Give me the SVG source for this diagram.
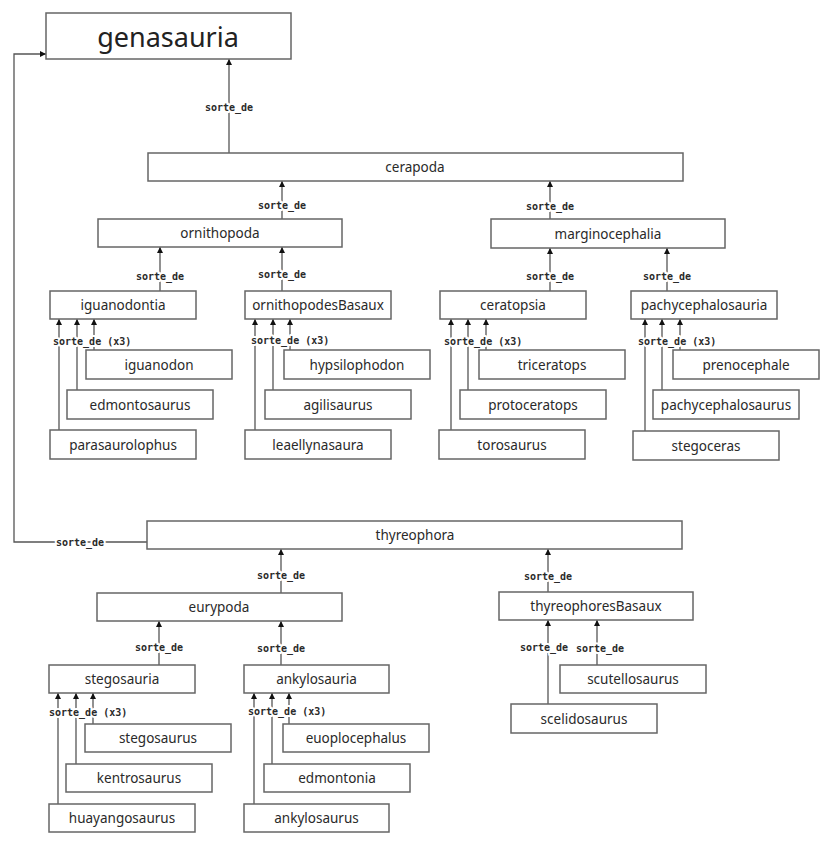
<svg xmlns="http://www.w3.org/2000/svg" width="825" height="842" viewBox="0 0 825 842">
<style>
.box{fill:#fff;stroke:#666;stroke-width:1.5}
.nt{font-family:"Noto Sans","Open Sans",sans-serif;font-size:13.5px;fill:#2a2a2a;text-anchor:middle;dominant-baseline:central}
.big{font-size:27px;fill:#222}
.ln{fill:none;stroke:#555;stroke-width:1.3;marker-end:url(#ah)}
.lb{font-family:"DejaVu Sans Mono","Liberation Mono",monospace;font-weight:bold;font-size:10px;fill:#2a2a2a;stroke:#fff;stroke-width:4;paint-order:stroke;stroke-linejoin:round;dominant-baseline:central}
.c{text-anchor:middle}
</style>
<defs>
<marker id="ah" viewBox="0 0 10 10" refX="10" refY="5" markerWidth="8" markerHeight="6" markerUnits="userSpaceOnUse" orient="auto">
<path d="M0,0 L10,5 L0,10 z" fill="#111"/>
</marker>
</defs>
<rect width="825" height="842" fill="#fff"/>
<g id="connectors">
<path class="ln" d="M229,153 V59"/>
<path class="ln" d="M282,219 V181"/>
<path class="ln" d="M550,219 V181"/>
<path class="ln" d="M160,291 V247"/>
<path class="ln" d="M282,291 V247"/>
<path class="ln" d="M550,291 V248"/>
<path class="ln" d="M667,291 V248"/>
<path class="ln" d="M59,430 V319"/>
<path class="ln" d="M77,390 V319"/>
<path class="ln" d="M94,350 V319"/>
<path class="ln" d="M255,430 V319"/>
<path class="ln" d="M273,390 V319"/>
<path class="ln" d="M290,350 V319"/>
<path class="ln" d="M451,430 V319"/>
<path class="ln" d="M468,390 V319"/>
<path class="ln" d="M486,350 V319"/>
<path class="ln" d="M645,431 V319"/>
<path class="ln" d="M662,390 V319"/>
<path class="ln" d="M680,350 V319"/>
<path class="ln" d="M147,542 H14 V54 H46"/>
<path class="ln" d="M281,593 V549"/>
<path class="ln" d="M548,592 V549"/>
<path class="ln" d="M159,665 V621"/>
<path class="ln" d="M281,665 V621"/>
<path class="ln" d="M58,804 V693"/>
<path class="ln" d="M76,764 V693"/>
<path class="ln" d="M93,724 V693"/>
<path class="ln" d="M254,804 V693"/>
<path class="ln" d="M272,764 V693"/>
<path class="ln" d="M289,724 V693"/>
<path class="ln" d="M548,704 V620"/>
<path class="ln" d="M597,665 V620"/>
<text class="lb c" x="229" y="107">sorte_de</text>
<text class="lb c" x="282" y="205">sorte_de</text>
<text class="lb c" x="550" y="206">sorte_de</text>
<text class="lb c" x="160" y="276">sorte_de</text>
<text class="lb c" x="282" y="274">sorte_de</text>
<text class="lb c" x="550" y="276">sorte_de</text>
<text class="lb c" x="667" y="276">sorte_de</text>
<text class="lb" x="53" y="341">sorte_de (x3)</text>
<text class="lb" x="251" y="340">sorte_de (x3)</text>
<text class="lb" x="444" y="341">sorte_de (x3)</text>
<text class="lb" x="638" y="341">sorte_de (x3)</text>
<text class="lb c" x="80" y="542">sorte_de</text>
<text class="lb c" x="281" y="575">sorte_de</text>
<text class="lb c" x="548" y="576">sorte_de</text>
<text class="lb c" x="159" y="647">sorte_de</text>
<text class="lb c" x="281" y="648">sorte_de</text>
<text class="lb" x="49" y="712">sorte_de (x3)</text>
<text class="lb" x="248" y="711">sorte_de (x3)</text>
<text class="lb c" x="544" y="647">sorte_de</text>
<text class="lb c" x="600" y="648">sorte_de</text>
</g>
<g id="genasauria"><rect class="box" x="46" y="13" width="245" height="46"/><text class="nt big" x="168" y="36">genasauria</text></g>
<g id="cerapoda"><rect class="box" x="148" y="153" width="535" height="28"/><text class="nt" x="415" y="167">cerapoda</text></g>
<g id="ornithopoda"><rect class="box" x="98" y="219" width="244" height="28"/><text class="nt" x="220" y="233">ornithopoda</text></g>
<g id="marginocephalia"><rect class="box" x="491" y="219" width="234" height="29"/><text class="nt" x="608" y="233.5">marginocephalia</text></g>
<g id="iguanodontia"><rect class="box" x="50" y="291" width="146" height="28"/><text class="nt" x="123" y="305">iguanodontia</text></g>
<g id="ornithopodesBasaux"><rect class="box" x="245" y="291" width="146" height="28"/><text class="nt" x="318" y="305">ornithopodesBasaux</text></g>
<g id="ceratopsia"><rect class="box" x="440" y="291" width="146" height="28"/><text class="nt" x="513" y="305">ceratopsia</text></g>
<g id="pachycephalosauria"><rect class="box" x="631" y="291" width="146" height="28"/><text class="nt" x="704" y="305">pachycephalosauria</text></g>
<g id="iguanodon"><rect class="box" x="86" y="350" width="146" height="29"/><text class="nt" x="159" y="364.5">iguanodon</text></g>
<g id="edmontosaurus"><rect class="box" x="67" y="390" width="146" height="29"/><text class="nt" x="140" y="404.5">edmontosaurus</text></g>
<g id="parasaurolophus"><rect class="box" x="50" y="430" width="146" height="29"/><text class="nt" x="123" y="444.5">parasaurolophus</text></g>
<g id="hypsilophodon"><rect class="box" x="284" y="350" width="146" height="29"/><text class="nt" x="357" y="364.5">hypsilophodon</text></g>
<g id="agilisaurus"><rect class="box" x="265" y="390" width="146" height="29"/><text class="nt" x="338" y="404.5">agilisaurus</text></g>
<g id="leaellynasaura"><rect class="box" x="245" y="430" width="146" height="29"/><text class="nt" x="318" y="444.5">leaellynasaura</text></g>
<g id="triceratops"><rect class="box" x="479" y="350" width="146" height="29"/><text class="nt" x="552" y="364.5">triceratops</text></g>
<g id="protoceratops"><rect class="box" x="460" y="390" width="146" height="29"/><text class="nt" x="533" y="404.5">protoceratops</text></g>
<g id="torosaurus"><rect class="box" x="439" y="430" width="146" height="29"/><text class="nt" x="512" y="444.5">torosaurus</text></g>
<g id="prenocephale"><rect class="box" x="673" y="350" width="146" height="29"/><text class="nt" x="746" y="364.5">prenocephale</text></g>
<g id="pachycephalosaurus"><rect class="box" x="653" y="390" width="146" height="29"/><text class="nt" x="726" y="404.5">pachycephalosaurus</text></g>
<g id="stegoceras"><rect class="box" x="633" y="431" width="146" height="29"/><text class="nt" x="706" y="445.5">stegoceras</text></g>
<g id="thyreophora"><rect class="box" x="147" y="521" width="535" height="28"/><text class="nt" x="415" y="535">thyreophora</text></g>
<g id="eurypoda"><rect class="box" x="97" y="593" width="245" height="28"/><text class="nt" x="219" y="607">eurypoda</text></g>
<g id="thyreophoresBasaux"><rect class="box" x="499" y="592" width="194" height="28"/><text class="nt" x="596" y="606">thyreophoresBasaux</text></g>
<g id="stegosauria"><rect class="box" x="49" y="665" width="146" height="28"/><text class="nt" x="122" y="679">stegosauria</text></g>
<g id="ankylosauria"><rect class="box" x="244" y="665" width="145" height="28"/><text class="nt" x="316.5" y="679">ankylosauria</text></g>
<g id="stegosaurus"><rect class="box" x="85" y="724" width="146" height="28"/><text class="nt" x="158" y="738">stegosaurus</text></g>
<g id="kentrosaurus"><rect class="box" x="66" y="764" width="146" height="28"/><text class="nt" x="139" y="778">kentrosaurus</text></g>
<g id="huayangosaurus"><rect class="box" x="49" y="804" width="146" height="28"/><text class="nt" x="122" y="818">huayangosaurus</text></g>
<g id="euoplocephalus"><rect class="box" x="283" y="724" width="146" height="28"/><text class="nt" x="356" y="738">euoplocephalus</text></g>
<g id="edmontonia"><rect class="box" x="264" y="764" width="146" height="28"/><text class="nt" x="337" y="778">edmontonia</text></g>
<g id="ankylosaurus"><rect class="box" x="244" y="804" width="145" height="28"/><text class="nt" x="316.5" y="818">ankylosaurus</text></g>
<g id="scelidosaurus"><rect class="box" x="511" y="704" width="146" height="29"/><text class="nt" x="584" y="718.5">scelidosaurus</text></g>
<g id="scutellosaurus"><rect class="box" x="560" y="665" width="146" height="28"/><text class="nt" x="633" y="679">scutellosaurus</text></g>
</svg>
